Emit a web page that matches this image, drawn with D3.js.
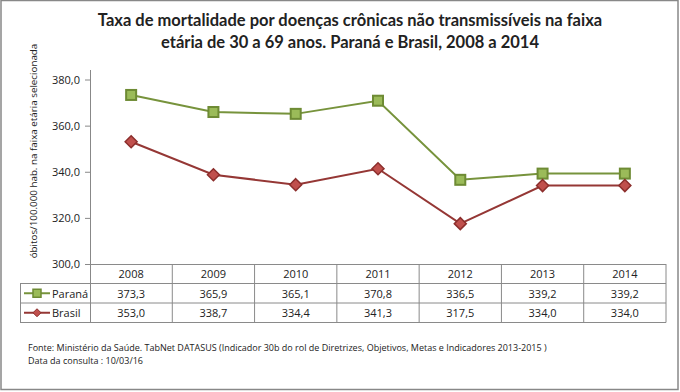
<!DOCTYPE html>
<html>
<head>
<meta charset="utf-8">
<script src="https://cdn.jsdelivr.net/npm/d3@7"></script>
<style>
  body { margin: 0; background: #fff; }
  text { font-family: "Open Sans", "DejaVu Sans", sans-serif; fill: #222; }
</style>
</head>
<body>
<div id="chart"></div>
<script>
// Chart data
const years = ["2008", "2009", "2010", "2011", "2012", "2013", "2014"];
const parana = [373.3, 365.9, 365.1, 370.8, 336.5, 339.2, 339.2];
const brasil = [353.0, 338.7, 334.4, 341.3, 317.5, 334.0, 334.0];
const yTicks = [300, 320, 340, 360, 380];

const width = 680, height = 392;
const margins = { top: 70, right: 14, bottom: 128, left: 90 };
const plotWidth = width - margins.left - margins.right;   // 576
const plotHeight = height - margins.top - margins.bottom; // 194

const locale = d3.formatLocale({ decimal: ",", thousands: ".", grouping: [3], currency: ["R$", ""] });
const fmt = locale.format(".1f");

const series = [
    { name: "Paraná", values: parana, line: "#77933C", fill: "#9BBB59", stroke: "#6E8B34", shape: "square" },
    { name: "Brasil", values: brasil, line: "#953735", fill: "#C0504D", stroke: "#8C2E2C", shape: "diamond" }
];

const svg = d3.select("#chart")
    .append("svg")
    .attr("width", width)
    .attr("height", height);

// Outer frame
svg.append("rect")
    .attr("x", 1).attr("y", 0.5)
    .attr("width", width - 3).attr("height", height - 3)
    .attr("fill", "#fff")
    .attr("stroke", "#888")
    .attr("stroke-width", 1.5);

// Title
const title = svg.append("text")
    .attr("text-anchor", "middle")
    .style("font-family", "Lato, 'Open Sans', sans-serif")
    .style("font-weight", "bold")
    .style("font-size", "16.5px");
title.append("tspan").attr("x", 350).attr("y", 26)
    .text("Taxa de mortalidade por doenças crônicas não transmissíveis na faixa");
title.append("tspan").attr("x", 350).attr("y", 48)
    .text("etária de 30 a 69 anos. Paraná e Brasil, 2008 a 2014");

const borders = svg.append("g")
    .attr("transform", `translate(${margins.left},${margins.top})`);

// Scales
const xScale = d3.scaleBand()
    .domain(years)
    .range([0, plotWidth]);

const yScale = d3.scaleLinear()
    .domain([300, 380])
    .range([plotHeight, 9.5]);

// Y axis
const yAxis = d3.axisLeft(yScale)
    .tickValues(yTicks)
    .tickSize(5)
    .tickPadding(5)
    .tickFormat(fmt);
const yG = borders.append("g").call(yAxis);
yG.select(".domain").remove();
yG.selectAll("line").attr("stroke", "#888");
yG.selectAll("text").style("font-size", "11px").style("font-family", "'Open Sans', sans-serif").attr("fill", "#222");
borders.append("line")
    .attr("x1", 0.5).attr("x2", 0.5)
    .attr("y1", 0).attr("y2", plotHeight + 58)
    .attr("stroke", "#888");

// Y axis label
svg.append("text")
    .attr("transform", `translate(37, 151) rotate(-90)`)
    .attr("text-anchor", "middle")
    .style("font-size", "9.8px")
    .text("óbitos/100.000 hab. na faixa etária selecionada");

// Lines and markers
const line = d3.line()
    .x((d, i) => xScale(years[i]) + xScale.bandwidth() / 2)
    .y(d => yScale(d));

series.forEach(s => {
    borders.append("path")
        .datum(s.values)
        .attr("fill", "none")
        .attr("stroke", s.line)
        .attr("stroke-width", 2)
        .attr("d", line);

    const marks = borders.selectAll(".m-" + s.shape)
        .data(s.values)
        .enter().append("g")
        .attr("transform", (d, i) => `translate(${xScale(years[i]) + xScale.bandwidth() / 2},${yScale(d)})`);

    if (s.shape === "square") {
        marks.append("rect")
            .attr("x", -5).attr("y", -5)
            .attr("width", 10).attr("height", 10)
            .attr("fill", s.fill)
            .attr("stroke", s.stroke)
            .attr("stroke-width", 2);
    } else {
        marks.append("path")
            .attr("d", "M0,-6L6,0L0,6L-6,0Z")
            .attr("fill", s.fill)
            .attr("stroke", s.stroke)
            .attr("stroke-width", 1.5);
    }
});

// Data table
const rowH = 19.5;
const tableTop = plotHeight;
const tableLeft = 20 - margins.left;
const grid = "#8a8a8a";

// horizontal lines
borders.append("line")
    .attr("x1", -5).attr("x2", plotWidth)
    .attr("y1", tableTop + 0.5).attr("y2", tableTop + 0.5)
    .attr("stroke", grid);
[1, 2, 3].forEach(r => {
    borders.append("line")
        .attr("x1", tableLeft).attr("x2", plotWidth)
        .attr("y1", tableTop + r * rowH).attr("y2", tableTop + r * rowH)
        .attr("stroke", grid);
});
// vertical lines
borders.append("line")
    .attr("x1", tableLeft + 0.5).attr("x2", tableLeft + 0.5)
    .attr("y1", tableTop + rowH).attr("y2", tableTop + 3 * rowH)
    .attr("stroke", grid);
years.forEach(y => {
    const xe = xScale(y) + xScale.bandwidth();
    borders.append("line")
        .attr("x1", xe).attr("x2", xe)
        .attr("y1", tableTop).attr("y2", tableTop + 3 * rowH)
        .attr("stroke", grid);
});

// header
borders.selectAll(".yr")
    .data(years)
    .enter().append("text")
    .attr("x", d => xScale(d) + xScale.bandwidth() / 2)
    .attr("y", tableTop + 14)
    .attr("text-anchor", "middle")
    .style("font-size", "11px")
    .text(d => d);

// rows
series.forEach((s, r) => {
    const yBase = tableTop + (r + 1) * rowH;
    borders.selectAll(".v" + r)
        .data(s.values)
        .enter().append("text")
        .attr("x", (d, i) => xScale(years[i]) + xScale.bandwidth() / 2)
        .attr("y", yBase + 14)
        .attr("text-anchor", "middle")
        .style("font-size", "11px")
        .text(d => fmt(d));

    // legend key
    const ky = yBase + rowH / 2;
    const kx = tableLeft + 17;
    borders.append("line")
        .attr("x1", tableLeft + 4).attr("x2", tableLeft + 30)
        .attr("y1", ky).attr("y2", ky)
        .attr("stroke", s.line).attr("stroke-width", 2);
    if (s.shape === "square") {
        borders.append("rect")
            .attr("x", kx - 4).attr("y", ky - 4)
            .attr("width", 8).attr("height", 8)
            .attr("fill", s.fill).attr("stroke", s.stroke).attr("stroke-width", 1.5);
    } else {
        borders.append("path")
            .attr("transform", `translate(${kx},${ky})`)
            .attr("d", "M0,-4L4,0L0,4L-4,0Z")
            .attr("fill", s.fill).attr("stroke", s.stroke).attr("stroke-width", 1);
    }
    borders.append("text")
        .attr("x", tableLeft + 32)
        .attr("y", yBase + 14)
        .style("font-size", "11px")
        .text(s.name);
});

// Source notes
const notes = svg.append("text")
    .style("font-size", "9px")
    .style("font-family", "'Open Sans', sans-serif");
notes.append("tspan").attr("x", 28).attr("y", 351)
    .text("Fonte: Ministério da Saúde. TabNet DATASUS (Indicador 30b do rol de Diretrizes, Objetivos, Metas e Indicadores 2013-2015 )");
notes.append("tspan").attr("x", 28).attr("y", 364)
    .text("Data da consulta : 10/03/16");
</script>
</body>
</html>
